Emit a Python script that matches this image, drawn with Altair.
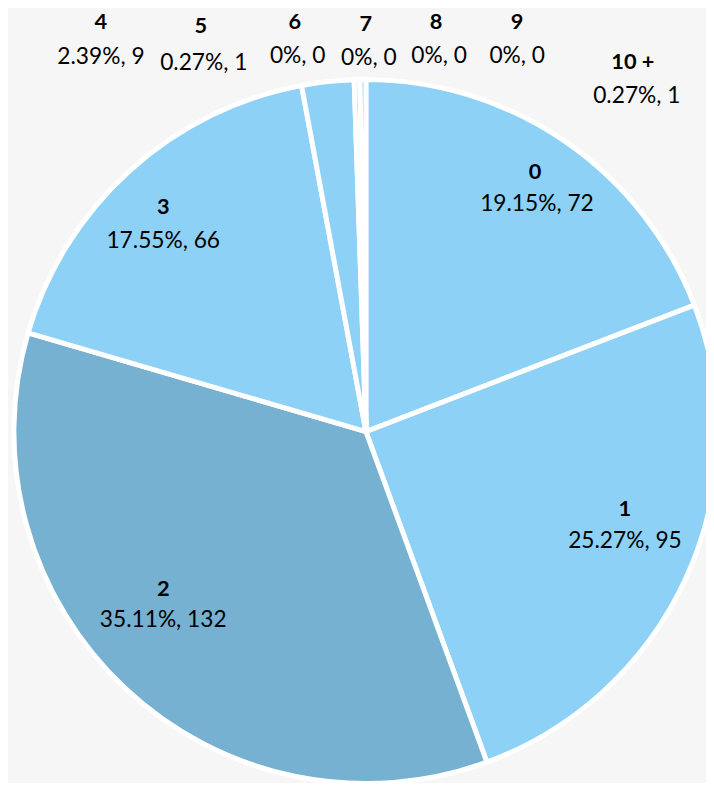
import altair as alt
import pandas as pd

# ---- data ----
categories = ["0", "1", "2", "3", "4", "5", "6", "7", "8", "9", "10 +"]
counts = [72, 95, 132, 66, 9, 1, 0, 0, 0, 0, 1]
percents = ["19.15%", "25.27%", "35.11%", "17.55%", "2.39%", "0.27%", "0%", "0%", "0%", "0%", "0.27%"]

# ---- styling / layout (not data) ----
light = "#8ed1f6"
dark = "#77b1d1"
slice_colors = [light, light, dark, light, light, light, light, light, light, light, light]
cx, cy, R = 362, 424, 356
# label anchor positions (chart px) for the bold name line and the value line
name_pos = [(533, 162), (624, 502), (157, 583), (157, 197), (94, 10), (195, 14),
            (290, 10), (362, 12), (433, 10), (515, 10), (632, 50)]
value_pos = [(535, 194), (624, 535), (157, 615), (157, 231), (94, 45), (198, 51),
             (293, 44), (365, 46), (436, 44), (515, 44), (636, 85)]

df = pd.DataFrame({
    "cat": categories,
    "count": counts,
    "idx": list(range(len(categories))),
    "value_label": [f"{p}, {c}" for p, c in zip(percents, counts)],
})
lab = df.copy()
lab["nx"] = [p[0] for p in name_pos]
lab["ny"] = [p[1] for p in name_pos]
lab["vx"] = [p[0] for p in value_pos]
lab["vy"] = [p[1] for p in value_pos]

FONT = "Lato"

pie = alt.Chart(df).mark_arc(
    x=cx, y=cy, outerRadius=R, stroke="white", strokeWidth=5
).encode(
    theta=alt.Theta("count:Q", stack=True),
    order=alt.Order("idx:Q"),
    color=alt.Color("cat:N", scale=alt.Scale(domain=categories, range=slice_colors), legend=None),
)

names = alt.Chart(lab).mark_text(
    font=FONT, fontSize=22, fontWeight="bold", color="#000000", baseline="middle", align="center"
).encode(
    x=alt.X("nx:Q", scale=None),
    y=alt.Y("ny:Q", scale=None),
    text="cat:N",
)

values = alt.Chart(lab).mark_text(
    font=FONT, fontSize=23, color="#000000", baseline="middle", align="center"
).encode(
    x=alt.X("vx:Q", scale=None),
    y=alt.Y("vy:Q", scale=None),
    text="value_label:N",
)

chart = alt.layer(pie, names, values).properties(
    width=706, height=775, padding=0, autosize=alt.AutoSizeParams(type="none"),
    background="#f6f6f6",
).configure_view(stroke=None)

chart.save("out.html", embed_options={"renderer": "svg", "actions": False})
